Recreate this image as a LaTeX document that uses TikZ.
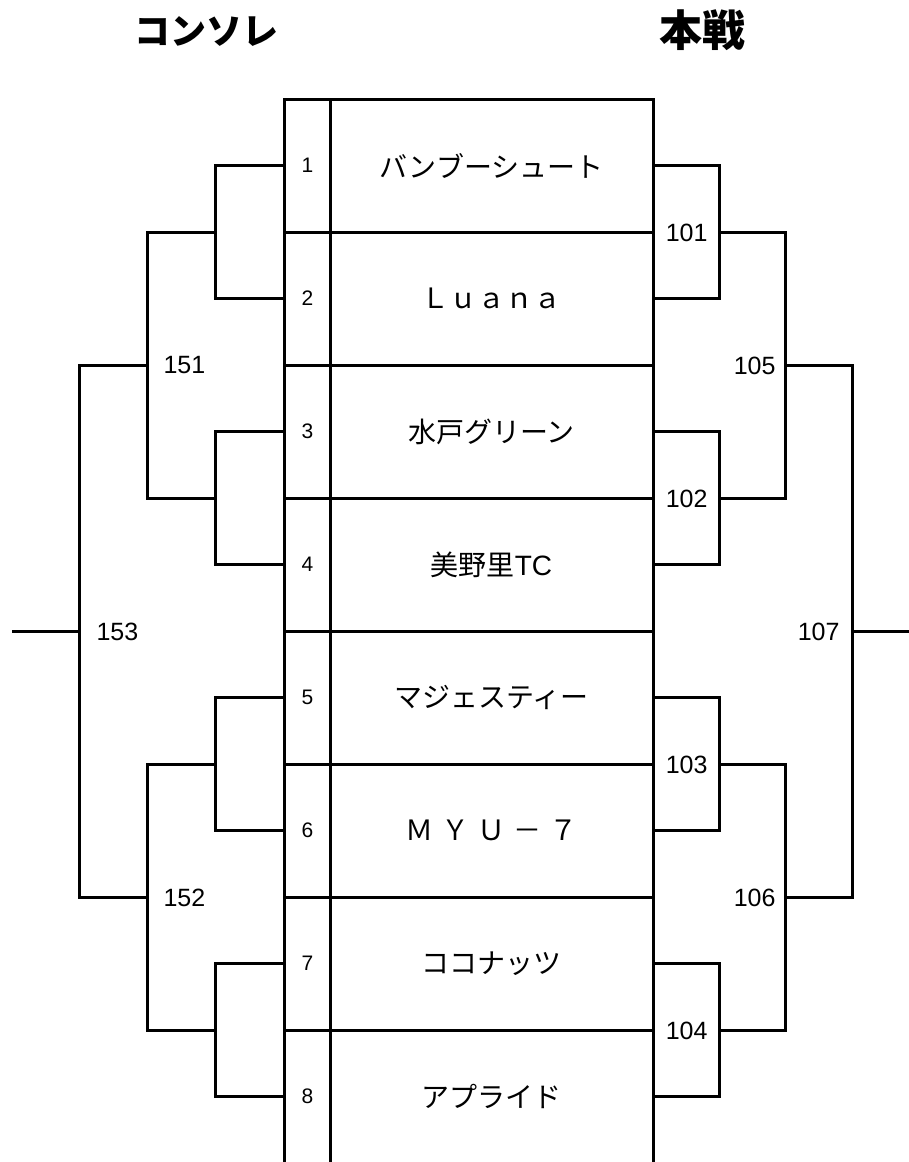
\documentclass[tikz,border=0pt]{standalone}
\usepackage{fontspec}
\setmainfont{Noto Sans CJK JP}
\newfontfamily\numfont{Liberation Sans}
\usetikzlibrary{positioning}

\begin{document}
\begin{tikzpicture}[x=1pt,y=-1pt,line width=3pt]
        \tikzstyle{every node}=[inner sep=0pt,outer sep=0pt]
        \tikzstyle{teamname}=[font=\fontsize{28}{28}\selectfont]
        \tikzstyle{seednum}=[font=\numfont\fontsize{21}{21}\selectfont]
        \tikzstyle{matchnum}=[font=\numfont\fontsize{25}{25}\selectfont]
        \tikzstyle{heading}=[font=\bfseries\fontsize{36}{36}\selectfont]
        \useasboundingbox (0,0) rectangle (909,1162);
        \begin{scope}
       % headings
       \node[heading] (consolation) at (206,32) {コンソレ};
       \node[heading,font=\bfseries\fontsize{43}{43}\selectfont] (mainround) at (702,30) {本戦};

       % table
       \draw (284.5,1162) -- (284.5,99.5) -- (653.5,99.5) -- (653.5,1162);
       \draw (330.5,99.5) -- (330.5,1162);
       \foreach\k in {1,...,7}{
            \draw (284.5,99.5+133*\k) -- (653.5,99.5+133*\k);
        }

       % teams
       \foreach\i/\team in {1/バンブーシュート,2/Ｌｕａｎａ,3/水戸グリーン,4/美野里{\numfont TC},
                            5/マジェスティー,6/{\addfontfeature{LetterSpace=28}ＭＹＵ－７},7/ココナッツ,8/アプライド}{
            \coordinate (L\i) at (284.5,32.5+133*\i);
            \coordinate (R\i) at (653.5,32.5+133*\i);
            \node[seednum] (seed\i) at (307.5,32.5+133*\i) {\i};
            \node[teamname] (team\i) at (491.5,32.5+133*\i) {\team};
        }

       % first round
       \foreach\j in {1,...,4}{
            \coordinate (Lb\j) at (215.5,-33.5+266*\j);
            \coordinate (Rb\j) at (719.5,-33.5+266*\j);
        }
           \draw (L1) -| (Lb1) |- (L2);
           \draw (L3) -| (Lb2) |- (L4);
           \draw (L5) -| (Lb3) |- (L6);
           \draw (L7) -| (Lb4) |- (L8);
           \draw (R1) -| (Rb1) |- (R2);
           \draw (R3) -| (Rb2) |- (R4);
           \draw (R5) -| (Rb3) |- (R6);
           \draw (R7) -| (Rb4) |- (R8);
           \node[matchnum,left=12pt of Rb1] (n101) {101};
           \node[matchnum,left=12pt of Rb2] (n102) {102};
           \node[matchnum,left=12pt of Rb3] (n103) {103};
           \node[matchnum,left=12pt of Rb4] (n104) {104};

       % consolation
           \coordinate (m151) at (147.5,365.5);
           \coordinate (m152) at (147.5,897.5);
           \coordinate (m153) at (79.5,631.5);
           \coordinate (lend) at (12,631.5);
           \draw (Lb1) -| (m151) |- (Lb2);
           \draw (Lb3) -| (m152) |- (Lb4);
           \draw (m151) -| (m153) |- (m152);
           \draw (m153) -- (lend);
           \node[matchnum,right=16pt of m151] (n151) {151};
           \node[matchnum,right=16pt of m152] (n152) {152};
           \node[matchnum,right=17pt of m153] (n153) {153};

       % main draw
           \coordinate (m105) at (785.5,365.5);
           \coordinate (m106) at (785.5,897.5);
           \coordinate (m107) at (852.5,631.5);
           \coordinate (rend) at (909,631.5);
           \draw (Rb1) -| (m105) |- (Rb2);
           \draw (Rb3) -| (m106) |- (Rb4);
           \draw (m105) -| (m107) |- (m106);
           \draw (m107) -- (rend);
           \node[matchnum,left=10pt of m105] (n105) {105};
           \node[matchnum,left=10pt of m106] (n106) {106};
           \node[matchnum,left=13pt of m107] (n107) {107};
     \end{scope}
  \end{tikzpicture}
\end{document}
